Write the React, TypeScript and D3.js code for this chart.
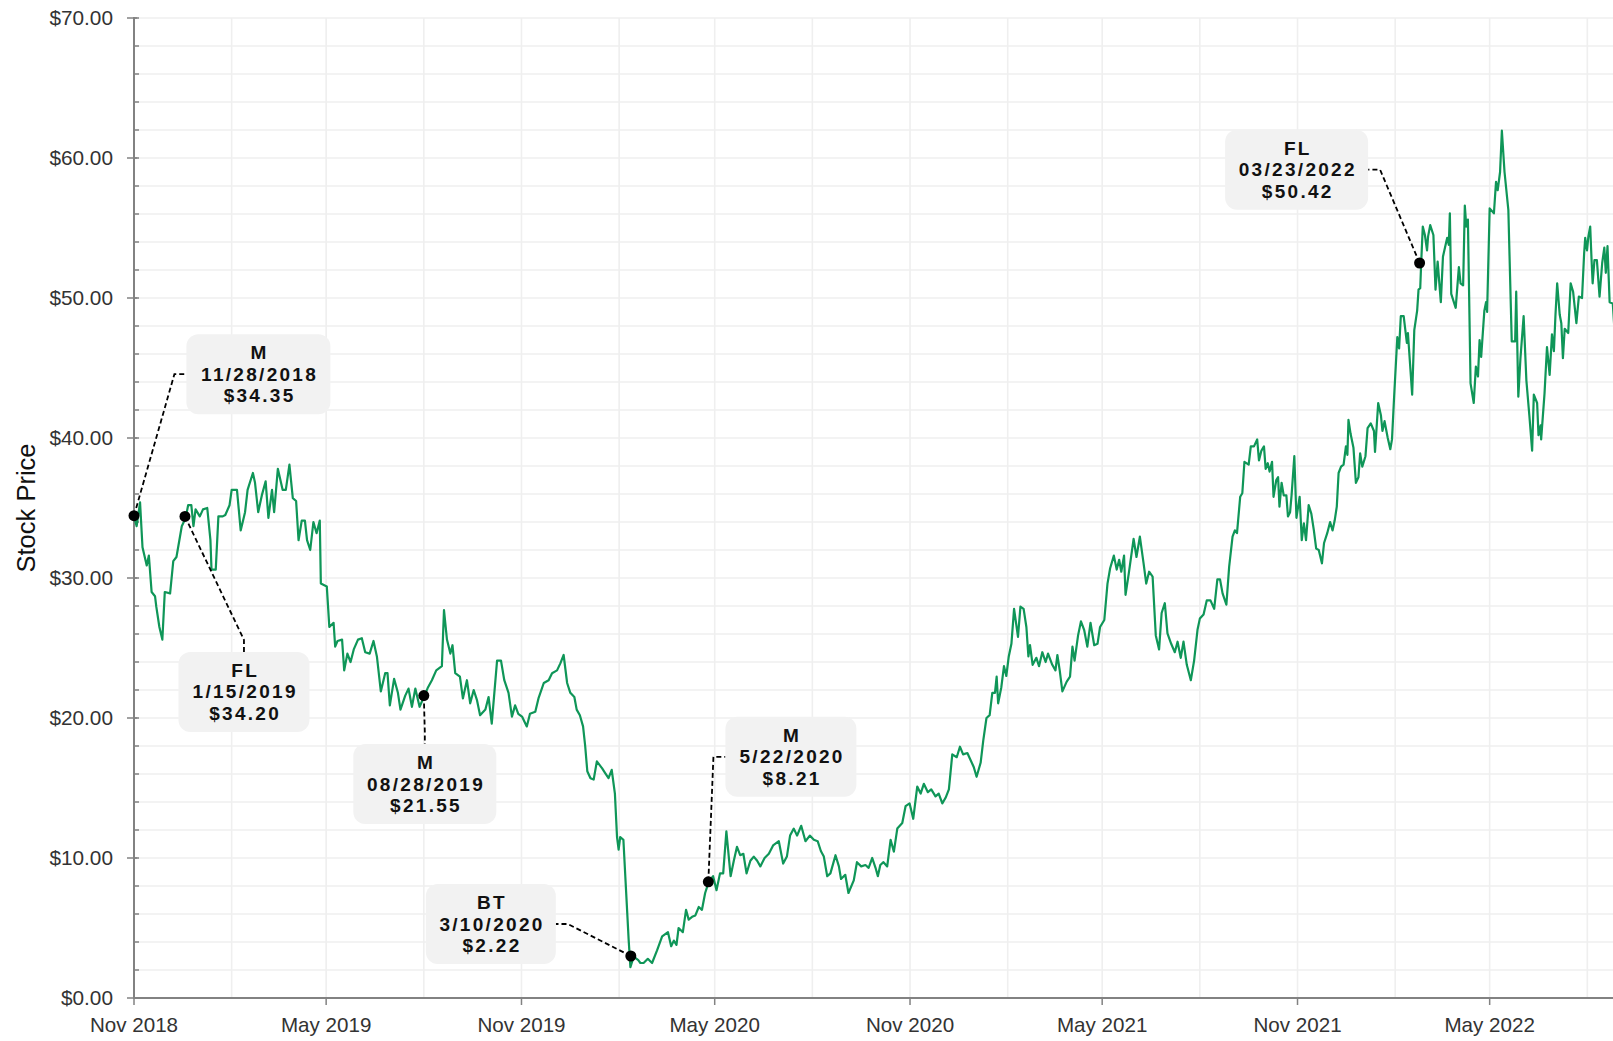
import React from "react";
import * as d3 from "d3";

// ---------- DATA ----------
const START_DATE = "2018-11-28";
// days since START_DATE
const dayOffsets = [
  0, 2.5, 5.7, 8, 12, 14, 16.6, 19.8, 21, 23.9, 26.7, 29, 34, 37, 40, 45, 48.7, 51, 54, 56, 58, 62, 65, 69, 72, 73, 77, 79.5, 83.6, 86, 90, 92, 97, 100.5, 104.6, 107, 112, 114, 117, 120.4, 124, 126.6, 130, 132, 135.5, 140, 143, 146.4, 149.6, 152.7, 155, 158, 161, 163, 166, 169, 172, 175, 176, 181.6, 184, 188, 189.5, 191.7, 196, 198, 201, 204, 207, 211, 214.6, 217.8, 222, 225.6, 228.8, 232.5, 236.6, 238.8, 241, 245, 248.6, 251, 255.5, 258.6, 261.8, 265, 269, 273.7, 277, 280.6, 284.7, 290, 292, 294.8, 298, 300, 302.6, 307, 309.8, 313.6, 316.7, 320, 323, 326, 331, 334, 337, 342, 345.7, 348.8, 352.8, 356, 359, 362, 365.5, 370, 373, 378, 381, 386, 390.6, 393.8, 398.5, 401.6, 404.7, 408, 411, 414.8, 417, 420, 423, 425, 427,
  430, 433, 436, 441, 444, 447, 450, 453, 455, 456.5, 458, 461, 463, 466, 467.6, 470.7, 475, 477, 480, 484, 488, 492.7, 497.5, 503, 506, 508.5, 511, 513, 517, 520, 522.5, 525.7, 528.8, 532, 535, 538, 541.4, 545.5, 548.7, 552, 555, 558, 562, 565, 568, 571, 574, 577, 580.6, 583.8, 587, 590, 594, 598, 602, 607.4, 611.5, 615, 618, 621.5, 624.6, 628.5, 632.5, 636.6, 640.4, 644, 647, 649.8, 653, 656, 660.8, 664, 666, 670, 673, 678, 681, 685, 689, 692, 695.4, 698.5, 700.7, 703, 706, 709.5, 712.7, 715.8, 719, 723.7, 726.8, 730.6, 734, 737.8, 741, 744, 747.8, 751, 755, 758, 761.4, 764.5, 767.6, 770.8, 775, 778, 781, 785, 788, 791, 793.7, 797.5, 800,
  803, 806, 808.5, 811, 812.6, 814, 817, 819.5, 821.7, 824, 826.5, 829, 832.7, 835, 838, 840.6, 842.5, 844, 846.5, 850, 852.5, 855.6, 858.7, 861, 865, 868, 869.8, 872, 874.5, 878.6, 881.7, 884, 886, 889.3, 892, 895, 898, 901, 904.5, 907.6, 910, 914, 917, 919.5, 923, 925.7, 928, 930, 932.6, 934, 937, 941.6, 944.3, 947.5, 951, 953.5, 956.2, 959.5, 962.5, 965.6, 968, 971, 973.5, 977, 980.4, 983, 986, 988.6, 991.7, 995.5, 998.6, 1001.8, 1004, 1007.5, 1010.5, 1014, 1017.5, 1020.5, 1023, 1025.4, 1029, 1031.6, 1034.8, 1037, 1039, 1042, 1044, 1046, 1050, 1052, 1055, 1058, 1059.7, 1062, 1064.4, 1066, 1068, 1069.7, 1072, 1073.4, 1076, 1077.7, 1079, 1081, 1083, 1085.5, 1087, 1089, 1090.4, 1093, 1095, 1098, 1100, 1102, 1104, 1106.5, 1109, 1111.4, 1113.6, 1116, 1119, 1121, 1124, 1126.7, 1129, 1131, 1133, 1134.7, 1137, 1139.4, 1141.6, 1143, 1144, 1146, 1148.7, 1151, 1153.4, 1155, 1157, 1160, 1162, 1165, 1168, 1169, 1172, 1174.6, 1176, 1178, 1181, 1183.4, 1185, 1187,
  1190, 1191.7, 1193.3, 1196, 1199, 1200, 1202, 1204, 1206, 1208.7, 1210, 1211.6, 1212.5, 1214, 1216, 1218, 1219, 1221, 1224, 1226, 1228, 1231, 1233, 1237, 1238.5, 1239.5, 1240.8, 1245, 1248, 1249.6, 1252, 1253.6, 1255, 1256.5, 1259, 1262, 1264, 1266, 1267.5, 1269, 1272, 1273.6, 1274.6, 1277, 1281, 1283, 1284.6, 1286.8, 1288.5, 1291, 1294.6, 1297.8, 1301, 1302, 1304, 1306, 1309, 1311.6, 1314.5, 1317, 1318.6, 1321.7, 1323, 1325, 1325.5, 1328.7, 1331, 1333.5, 1335.7, 1337.5, 1339, 1340.6, 1343, 1344.5, 1346, 1347.7, 1351, 1353.3, 1355.6, 1358.7, 1361, 1364, 1366, 1367, 1368.7, 1370, 1371.7, 1373, 1374, 1375.7, 1378, 1380.5, 1383, 1385, 1386.4, 1388, 1390, 1393, 1395, 1398,
];
const prices = [
  34.4, 33.7, 35.4, 32.2, 30.9, 31.6, 29.0, 28.7, 27.95, 26.5, 25.6, 29.0, 28.9, 31.2, 31.5, 33.7, 34.3, 35.2, 35.2, 33.7, 34.9, 34.4, 34.9, 35.0, 32.7, 30.6, 30.6, 34.4, 34.4, 34.5, 35.2, 36.3, 36.3, 33.4, 34.7, 36.3, 37.5, 36.8, 34.7, 35.9, 36.9, 34.3, 36.3, 34.7, 37.8, 36.3, 36.3, 38.1, 35.7, 35.5, 32.7, 34.1, 34.1, 32.7, 32.0, 34.0, 33.2, 34.1, 29.6, 29.4, 26.5, 26.8, 25.1, 25.5, 25.6, 23.4, 24.6, 24.0, 24.9, 25.6, 25.7, 24.7, 24.6, 25.5, 24.4, 21.9, 23.2, 23.2, 20.9, 22.8, 21.8, 20.6, 21.6, 22.1, 20.8, 22.1, 20.8, 21.6, 22.2, 22.7, 23.4, 23.7, 27.7, 25.6, 24.6, 25.2, 23.2, 22.95, 21.4, 22.7, 21.05, 22.0, 21.3, 20.2, 20.6, 21.5, 19.6, 24.1, 24.1, 22.7, 21.8, 20.1, 20.9, 20.3, 20.1, 19.4, 20.3, 20.45, 21.4, 22.5, 22.7, 23.2, 23.4, 23.9, 24.5, 22.5, 21.8, 21.5, 20.6, 20.2, 19.4, 18.0, 16.2,
  15.7, 15.6, 16.9, 16.4, 16.05, 15.7, 16.3, 14.6, 11.5, 10.6, 11.5, 11.3, 8.4, 4.1, 2.2, 2.95, 2.7, 2.5, 2.5, 2.8, 2.5, 3.4, 4.4, 4.7, 3.7, 4.1, 3.8, 5.0, 4.7, 6.3, 5.6, 5.8, 5.9, 6.5, 6.3, 7.5, 8.3, 8.7, 7.7, 8.9, 8.9, 11.9, 8.7, 9.8, 10.8, 10.2, 10.3, 8.9, 9.8, 10.1, 9.8, 9.4, 10.0, 10.3, 10.9, 11.2, 9.6, 10.1, 11.6, 12.1, 11.6, 12.3, 11.2, 11.6, 11.3, 11.2, 10.5, 10.1, 8.7, 8.9, 10.2, 9.4, 8.5, 8.8, 7.5, 8.4, 9.7, 9.4, 9.5, 9.3, 10.0, 9.3, 8.7, 9.5, 9.7, 9.4, 11.3, 10.45, 12.1, 12.5, 13.7, 13.9, 12.8, 15.1, 14.6, 15.3, 14.7, 14.9, 14.4, 14.6, 13.9, 14.3, 14.9, 17.4, 17.2, 17.95, 17.4, 17.5, 17.0, 16.5, 15.8, 16.8, 18.4,
  20.0, 20.2, 21.8, 21.8, 22.95, 21.05, 22.2, 23.7, 23.0, 24.4, 25.3, 27.8, 25.8, 27.95, 27.8, 26.5, 24.4, 25.2, 23.8, 24.3, 23.7, 24.7, 24.0, 24.6, 23.8, 23.4, 24.5, 23.4, 21.9, 22.6, 22.95, 25.1, 24.1, 25.9, 26.9, 26.3, 25.1, 26.8, 25.2, 25.3, 26.5, 27.0, 29.6, 30.7, 31.6, 30.6, 31.3, 30.45, 31.6, 28.8, 30.3, 32.8, 31.5, 32.95, 31.05, 29.6, 30.45, 30.1, 25.9, 24.9, 27.5, 28.2, 26.05, 25.3, 24.7, 25.45, 24.3, 25.45, 23.8, 22.7, 24.1, 26.3, 27.1, 27.4, 28.4, 28.4, 27.8, 29.9, 29.9, 28.9, 28.1, 30.8, 32.95, 33.4, 33.2, 35.8, 36.05, 38.3, 38.1, 39.4, 39.4, 39.9, 38.4, 39.1, 39.4, 37.8, 38.2, 37.6, 38.3, 35.8, 37.0, 37.2, 35.1, 36.8, 35.9, 35.9, 34.4, 34.7, 35.9, 38.7, 34.3, 35.8, 32.7, 33.9, 32.7, 35.2, 34.6, 33.4, 32.1, 32.0, 31.05, 32.5, 33.2, 34.0, 33.4, 34.1, 35.1, 37.5, 37.95, 38.1, 39.4, 38.8, 41.3, 40.3, 39.3, 36.8, 37.2, 38.9, 37.95, 38.7, 40.7, 41.05, 40.5, 39.0, 42.5, 41.6, 40.5, 41.2, 40.0, 39.2, 39.9, 42.95,
  47.2, 46.4, 48.7, 48.7, 46.8, 47.5, 45.3, 43.1, 47.7, 49.1, 50.6, 50.7, 52.5, 55.1, 54.5, 53.4, 54.4, 55.2, 54.5, 50.6, 52.6, 49.7, 52.95, 54.3, 53.8, 56.05, 50.3, 49.3, 52.2, 51.05, 50.9, 56.6, 55.1, 55.6, 43.9, 42.5, 45.1, 44.4, 47.0, 45.8, 49.1, 49.7, 49.0, 56.4, 56.05, 58.3, 57.7, 59.0, 61.95, 59.0, 56.3, 46.9, 46.9, 50.45, 42.95, 45.7, 48.7, 44.1, 41.5, 39.1, 43.1, 42.5, 40.2, 40.9, 39.9, 43.2, 46.5, 44.5, 47.4, 46.2, 48.8, 51.05, 48.8, 48.2, 45.7, 47.8, 47.5, 51.05, 50.45, 48.2, 50.1, 50.0, 53.2, 54.3, 53.4, 54.4, 55.1, 52.7, 51.05, 52.7, 52.7, 50.1, 52.5, 53.6, 51.8, 53.7, 49.7, 49.6, 47.2, 46.0,
];

const yTickValues = [0, 10, 20, 30, 40, 50, 60, 70];
const xTickLabels = ["Nov 2018", "May 2019", "Nov 2019", "May 2020", "Nov 2020", "May 2021", "Nov 2021", "May 2022"];

const annTickers = ["M", "FL", "M", "BT", "M", "FL"];
const annDates = ["11/28/2018", "1/15/2019", "08/28/2019", "3/10/2020", "5/22/2020", "03/23/2022"];
const annPrices = ["$34.35", "$34.20", "$21.55", "$2.22", "$8.21", "$50.42"];
const annDotValues = [34.45, 34.4, 21.6, 3.0, 8.3, 52.5];

// ---------- LAYOUT (not data) ----------
const annLayout = [
  { dx: 124.4, dy: -141.5, w: 144, anchor: "left" },
  { dx: 59, dy: 175.5, w: 131, anchor: "top" },
  { dx: 1, dy: 88.5, w: 143, anchor: "top" },
  { dx: -140, dy: -32, w: 130, anchor: "right" },
  { dx: 82.6, dy: -125, w: 131, anchor: "left" },
  { dx: -123, dy: -93.3, w: 143, anchor: "right" },
];

const W = 1613;
const H = 1041;
const X0 = 134;
const Y0 = 998;
const YTOP = 18;
const PX_PER_DAY = 1.0616;
const FONT = "'Liberation Sans', Arial, Helvetica, sans-serif";
const GREEN = "#0f9658";
const GRID = "#efefef";
const AXIS = "#828282";

export default function App() {
  const start = d3.timeParse("%Y-%m-%d")(START_DATE) as Date;
  const dayMs = 864e5;
  const endDays = 1400;
  const x = d3
    .scaleTime()
    .domain([start, new Date(start.getTime() + endDays * dayMs)])
    .range([X0, X0 + endDays * PX_PER_DAY]);
  const y = d3.scaleLinear().domain([0, 70]).range([Y0, YTOP]);

  const series = dayOffsets.map((d, i) => ({ date: new Date(start.getTime() + d * dayMs), v: prices[i] }));
  const line = d3
    .line<{ date: Date; v: number }>()
    .x((d) => x(d.date))
    .y((d) => y(d.v));

  const quarterDates = d3.range(0, 16).map((i) => d3.timeMonth.offset(start, 3 * i));
  const minorY = d3.range(0, 71, 2);
  const fmtY = d3.format("$.2f");
  const parseAnn = d3.timeParse("%m/%d/%Y");

  const anns = annTickers.map((t, i) => {
    const dt = parseAnn(annDates[i]) as Date;
    const px = x(dt);
    const py = y(annDotValues[i]);
    const L = annLayout[i];
    const h = 80;
    const bx = px + L.dx;
    const by = py + L.dy;
    let ax = bx, ay = by, ex = bx, ey = by;
    if (L.anchor === "left") { ax = bx - L.w / 2; ex = ax - 12; }
    else if (L.anchor === "right") { ax = bx + L.w / 2; ex = ax + 12; }
    else { ay = by - h / 2; ey = ay - 12; }
    return { t, date: annDates[i], price: annPrices[i], px, py, bx, by, w: L.w, h, ax, ay, ex, ey };
  });

  return (
    <div style={{ position: "fixed", left: 0, top: 0, width: W, height: H, overflow: "hidden", background: "#fff" }}>
      <svg width={W} height={H} style={{ display: "block" }} fontFamily={FONT}>
        <defs>
          <clipPath id="plotClip">
            <rect x={X0} y={0} width={W - X0} height={Y0 + 2} />
          </clipPath>
        </defs>
        {/* horizontal grid */}
        {minorY.filter((v) => v > 0).map((v) => (
          <line key={"hg" + v} x1={X0} x2={W} y1={y(v)} y2={y(v)} stroke={GRID} strokeWidth={1.6} />
        ))}
        {/* vertical grid */}
        {quarterDates.slice(1).map((d, i) => (
          <line key={"vg" + i} x1={x(d)} x2={x(d)} y1={YTOP} y2={Y0} stroke={GRID} strokeWidth={1.6} />
        ))}
        {/* y axis */}
        <line x1={X0} x2={X0} y1={YTOP - 1} y2={Y0 + 1} stroke={AXIS} strokeWidth={2} />
        {minorY.map((v) => (
          <line key={"mt" + v} x1={X0} x2={X0 + 5} y1={y(v)} y2={y(v)} stroke={AXIS} strokeWidth={1.5} />
        ))}
        {yTickValues.map((v) => (
          <g key={"yt" + v}>
            <line x1={X0 - 7} x2={X0 + 3} y1={y(v)} y2={y(v)} stroke={AXIS} strokeWidth={1.5} />
            <text x={113} y={y(v)} dy="0.36em" textAnchor="end" fontSize={20.8} fill="#333">
              {fmtY(v)}
            </text>
          </g>
        ))}
        {/* x axis */}
        <line x1={X0 - 1} x2={W} y1={Y0} y2={Y0} stroke={AXIS} strokeWidth={2} />
        {xTickLabels.map((lab, i) => {
          const xx = x(quarterDates[i * 2]);
          return (
            <g key={"xt" + i}>
              <line x1={xx} x2={xx} y1={Y0} y2={Y0 + 7} stroke={AXIS} strokeWidth={1.5} />
              <text x={xx} y={1032} textAnchor="middle" fontSize={20.6} fill="#333">
                {lab}
              </text>
            </g>
          );
        })}
        {/* y axis title */}
        <text
          transform={`translate(26,508) rotate(-90)`}
          textAnchor="middle"
          dominantBaseline="central"
          fontSize={25.5}
          fill="#111"
        >
          Stock Price
        </text>
        {/* price line */}
        <path d={line(series) || ""} fill="none" stroke={GREEN} strokeWidth={2.2} strokeLinejoin="round" clipPath="url(#plotClip)" />
        {/* annotations */}
        {anns.map((a, i) => (
          <g key={"ann" + i}>
            <path
              d={`M${a.px},${a.py}L${a.ex},${a.ey}L${a.ax},${a.ay}`}
              fill="none"
              stroke="#000"
              strokeWidth={1.8}
              strokeDasharray="5,3"
            />
            <circle cx={a.px} cy={a.py} r={5.5} fill="#000" />
            <rect x={a.bx - a.w / 2} y={a.by - a.h / 2} width={a.w} height={a.h} rx={12} fill="#f2f2f2" />
            {[a.t, a.date, a.price].map((s, j) => (
              <text
                key={j}
                x={a.bx + 1.2}
                y={a.by + (j - 1) * 21.3}
                dominantBaseline="central"
                textAnchor="middle"
                fontSize={19}
                fontWeight="bold"
                letterSpacing={2.3}
                fill="#111"
              >
                {s}
              </text>
            ))}
          </g>
        ))}
      </svg>
    </div>
  );
}
